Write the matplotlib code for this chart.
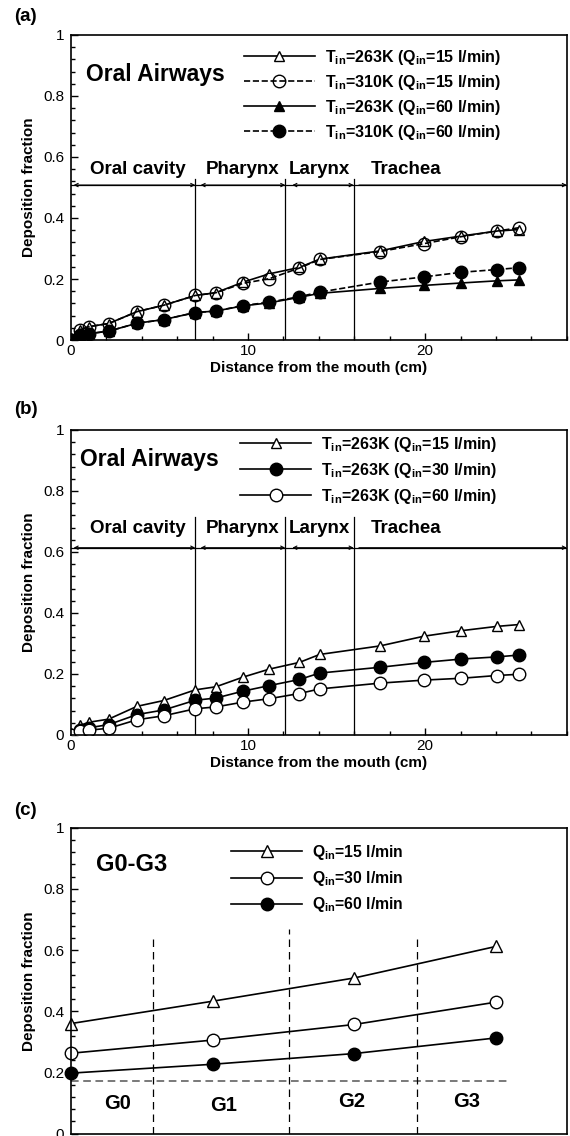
import matplotlib
matplotlib.use("Agg")
import matplotlib.pyplot as plt
from matplotlib.ticker import MultipleLocator, FuncFormatter

# fuente tipo Arial para todo
plt.rcParams['font.family'] = ['Liberation Sans', 'DejaVu Sans']
plt.rcParams['mathtext.fontset'] = 'custom'
plt.rcParams['mathtext.rm'] = 'Liberation Sans'
plt.rcParams['mathtext.bf'] = 'Liberation Sans:bold'

#---------------------------- datos ------------------------------------
# distancia desde la boca (cm), paneles (a) y (b)
distancia = [0, 0.52, 1.04, 2.13, 3.73, 5.24, 7.02, 8.18, 9.73, 11.2,
             12.9, 14.04, 17.45, 19.94, 22.05, 24.04, 25.28]

# panel (a)
a_263_15 = [0, 0.034, 0.044, 0.054, 0.093, 0.114, 0.146, 0.155, 0.19, 0.217,
            0.238, 0.265, 0.292, 0.323, 0.341, 0.357, 0.362]
a_310_15 = [0, 0.034, 0.044, 0.054, 0.093, 0.114, 0.146, 0.155, 0.186, 0.201,
            0.236, 0.264, 0.29, 0.316, 0.339, 0.357, 0.368]
a_263_60 = [0, 0.015, 0.021, 0.029, 0.055, 0.067, 0.09, 0.095, 0.112, 0.122,
            0.14, 0.153, 0.169, 0.179, 0.187, 0.194, 0.197]
a_310_60 = [0, 0.015, 0.021, 0.029, 0.055, 0.067, 0.09, 0.095, 0.113, 0.124,
            0.142, 0.157, 0.19, 0.207, 0.222, 0.231, 0.237]

# panel (b)
b_15 = [0, 0.032, 0.042, 0.052, 0.094, 0.113, 0.148, 0.158, 0.19, 0.216,
        0.238, 0.264, 0.292, 0.324, 0.342, 0.356, 0.362]
b_30 = [0, 0.018, 0.024, 0.034, 0.067, 0.082, 0.114, 0.121, 0.144, 0.162,
        0.182, 0.203, 0.222, 0.238, 0.249, 0.256, 0.262]
b_60 = [0, 0.012, 0.016, 0.022, 0.05, 0.063, 0.086, 0.092, 0.108, 0.119,
        0.136, 0.151, 0.17, 0.18, 0.186, 0.195, 0.199]

# panel (c) generaciones G0-G3
generacion = [0, 1, 2, 3]
c_15 = [0.36, 0.433, 0.509, 0.612]
c_30 = [0.263, 0.306, 0.357, 0.43]
c_60 = [0.198, 0.227, 0.262, 0.313]

# regiones de la via aerea
regiones = ['Oral cavity', 'Pharynx', 'Larynx', 'Trachea']
limites = [7.02, 12.1, 15.96]
centros_reg = [3.8, 9.7, 14.05, 18.9]

gen_nombres = ['G0', 'G1', 'G2', 'G3']
gen_limites = [0.58, 1.54, 2.44]
gen_x = [0.33, 1.08, 1.98, 2.79]
gen_y = [0.1, 0.093, 0.105, 0.105]

#---------------------------- figura -----------------------------------
fig = plt.figure(figsize=(5.7, 11.36), dpi=100)
ax_a = fig.add_axes([0.1245, 0.7007, 0.870, 0.2685])
ax_b = fig.add_axes([0.1245, 0.3530, 0.870, 0.2685])
ax_c = fig.add_axes([0.1245, 0.0020, 0.870, 0.2694])


def formato_ejes(ax, con_x=True):
    ax.set_ylim(0, 1)
    ax.yaxis.set_major_locator(MultipleLocator(0.2))
    ax.yaxis.set_minor_locator(MultipleLocator(0.04))
    ax.yaxis.set_major_formatter(FuncFormatter(lambda v, p: '%g' % round(v, 2)))
    ax.tick_params(which='both', direction='in', top=False, right=False,
                   labelsize=11, width=1)
    ax.tick_params(which='major', length=5, pad=5)
    ax.tick_params(which='minor', length=3)
    for s in ax.spines.values():
        s.set_linewidth(1.2)
    ax.set_ylabel('Deposition fraction', fontsize=11, fontweight='bold', labelpad=5)
    if con_x:
        ax.set_xlim(0, 28)
        ax.xaxis.set_major_locator(MultipleLocator(10))
        ax.xaxis.set_minor_locator(MultipleLocator(2))
        ax.set_xlabel('Distance from the mouth (cm)', fontsize=11,
                      fontweight='bold', labelpad=2)
        ax.tick_params(axis='x', which='major', pad=3)


def dibujar_regiones(ax, y_linea, y_texto, y_top):
    ax.axhline(y_linea, color='black', lw=0.9)
    for xl in limites:
        ax.plot([xl, xl], [0, y_top], color='black', lw=0.9)
    tramos = [(0.15, limites[0]), (limites[0] + 0.3, limites[1]),
              (limites[1] + 0.4, limites[2]), (limites[2] + 0.3, 28)]
    for i, (x1, x2) in enumerate(tramos):
        estilo = '<->' if i < 3 else '<-'
        ax.annotate('', xy=(x1, y_linea), xytext=(x2, y_linea),
                    arrowprops=dict(arrowstyle=estilo, lw=0.8, color='black',
                                    shrinkA=0, shrinkB=0, mutation_scale=6))
    for nombre, xc in zip(regiones, centros_reg):
        ax.text(xc, y_texto, nombre, ha='center', va='center',
                fontsize=13.5, fontweight='bold')


def leyenda(ax, x0, y0, fs, sep):
    ax.legend(loc='upper left', bbox_to_anchor=(x0, y0), frameon=False,
              prop={'weight': 'bold', 'size': fs}, handlelength=71 / (fs * 1.389),
              handletextpad=10 / (fs * 1.389), labelspacing=sep, borderpad=0,
              borderaxespad=0, numpoints=1)


T = r'T$_{\mathbf{in}}$'
Q = r'Q$_{\mathbf{in}}$'

#---------------------------- panel (a) ---------------------------------
ax = ax_a
formato_ejes(ax)
dibujar_regiones(ax, 0.508, 0.558, 0.528)
ax.plot(distancia, a_263_15, '-', color='black', lw=1.2, marker='^', ms=7,
        mfc='white', mec='black', label=T + '=263K (' + Q + '=15 l/min)')
ax.plot(distancia, a_310_15, '--', color='black', lw=1.2, marker='o', ms=9,
        mfc='none', mec='black', label=T + '=310K (' + Q + '=15 l/min)')
ax.plot(distancia, a_263_60, '-', color='black', lw=1.2, marker='^', ms=7,
        mfc='black', mec='black', label=T + '=263K (' + Q + '=60 l/min)')
ax.plot(distancia, a_310_60, '--', color='black', lw=1.2, marker='o', ms=9,
        mfc='black', mec='black', label=T + '=310K (' + Q + '=60 l/min)')
ax.text(0.85, 0.872, 'Oral Airways', fontsize=16.5, fontweight='bold', va='center')
leyenda(ax, 0.348, 0.958, 11.5, 0.38)
ax.text(-0.091, 1.059, '(a)', transform=ax.transAxes, fontsize=13.5,
        fontweight='bold', ha='center', va='center')

#---------------------------- panel (b) ---------------------------------
ax = ax_b
formato_ejes(ax)
dibujar_regiones(ax, 0.614, 0.676, 0.714)
ax.plot(distancia, b_15, '-', color='black', lw=1.2, marker='^', ms=7,
        mfc='white', mec='black', label=T + '=263K (' + Q + '=15 l/min)')
ax.plot(distancia, b_30, '-', color='black', lw=1.2, marker='o', ms=9,
        mfc='black', mec='black', label=T + '=263K (' + Q + '=30 l/min)')
ax.plot(distancia, b_60, '-', color='black', lw=1.2, marker='o', ms=9,
        mfc='white', mec='black', label=T + '=263K (' + Q + '=60 l/min)')
ax.text(0.52, 0.903, 'Oral Airways', fontsize=16.5, fontweight='bold', va='center')
leyenda(ax, 0.341, 0.985, 11.5, 0.45)
ax.text(-0.091, 1.066, '(b)', transform=ax.transAxes, fontsize=13.5,
        fontweight='bold', ha='center', va='center')

#---------------------------- panel (c) ---------------------------------
ax = ax_c
formato_ejes(ax, con_x=False)
ax.set_xlim(0, 3.5)
ax.set_xticks([])
ax.plot([0, 3.085], [0.171, 0.171], '--', color='#555555', lw=1.1, dashes=(5, 3))
for xl, yt in zip(gen_limites, [0.646, 0.67, 0.646]):
    ax.plot([xl, xl], [0, yt], '--', color='black', lw=0.9, dashes=(6, 4))
for nombre, xg, yg in zip(gen_nombres, gen_x, gen_y):
    ax.text(xg, yg, nombre, ha='center', va='center', fontsize=14.5, fontweight='bold')
ax.plot(generacion, c_15, '-', color='black', lw=1.2, marker='^', ms=8,
        mfc='white', mec='black', label=Q + '=15 l/min', clip_on=False)
ax.plot(generacion, c_30, '-', color='black', lw=1.2, marker='o', ms=9,
        mfc='white', mec='black', label=Q + '=30 l/min', clip_on=False)
ax.plot(generacion, c_60, '-', color='black', lw=1.2, marker='o', ms=9,
        mfc='black', mec='black', label=Q + '=60 l/min', clip_on=False)
ax.text(0.18, 0.88, 'G0-G3', fontsize=17, fontweight='bold', va='center')
leyenda(ax, 0.323, 0.95, 11.3, 0.45)
ax.text(-0.091, 1.056, '(c)', transform=ax.transAxes, fontsize=13.5,
        fontweight='bold', ha='center', va='center')

fig.savefig('out.png', dpi=100)
